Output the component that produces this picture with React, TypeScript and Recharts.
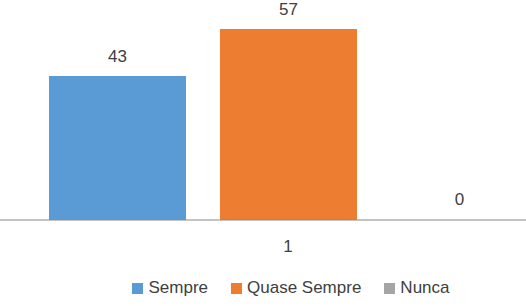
import { BarChart, Bar, XAxis, YAxis, Legend, LabelList, Cell } from 'recharts'

const categories = ['1']
const seriesNames = ['Sempre', 'Quase Sempre', 'Nunca']
const sempre = [43]
const quaseSempre = [57]
const nunca = [0]
const colors = ['#5B9BD5', '#ED7D31', '#A5A5A5']

const data = categories.map((c, i) => ({
  cat: c,
  s0: sempre[i],
  s1: quaseSempre[i],
  s2: nunca[i],
}))

const font = '"Liberation Sans", Arial, sans-serif'

function LegendBox() {
  return (
    <div style={{ display: 'flex', justifyContent: 'center', height: 36, alignItems: 'center', paddingLeft: 6, fontFamily: font, fontSize: 17, color: '#404040' }}>
      {seriesNames.map((n, i) => (
        <div key={n} style={{ display: 'flex', alignItems: 'center', marginRight: i < 2 ? 23 : 0 }}>
          <span style={{ width: 11, height: 11, background: colors[i], marginRight: 5, display: 'inline-block' }} />
          <span>{n}</span>
        </div>
      ))}
    </div>
  )
}

export default function App() {
  const keys = ['s0', 's1', 's2']
  return (
    <div style={{ position: 'absolute', left: 0, top: 0, width: 526, height: 306, overflow: 'hidden', background: '#fff' }}>
      <BarChart width={576} height={306} data={data} barSize={137} barGap={34}
        margin={{ top: 19, right: 0, left: 0, bottom: 0 }}>
        <XAxis dataKey="cat" stroke="#898989" tickLine={false} tickMargin={14} height={50}
          tick={{ fill: '#404040', fontSize: 17, fontFamily: font }} />
        <YAxis hide domain={[0, 60]} />
        <Legend verticalAlign="bottom" content={<LegendBox />} />
        {keys.map((k, i) => (
          <Bar key={k} dataKey={k} name={seriesNames[i]} fill={colors[i]} minPointSize={1} isAnimationActive={false}>
            {data.map((d, j) => (
              <Cell key={j} fillOpacity={(d as any)[k] === 0 ? 0 : 1} />
            ))}
            <LabelList dataKey={k} position="top" offset={14} fill="#404040" fontSize={17} fontFamily={font} />
          </Bar>
        ))}
      </BarChart>
    </div>
  )
}
